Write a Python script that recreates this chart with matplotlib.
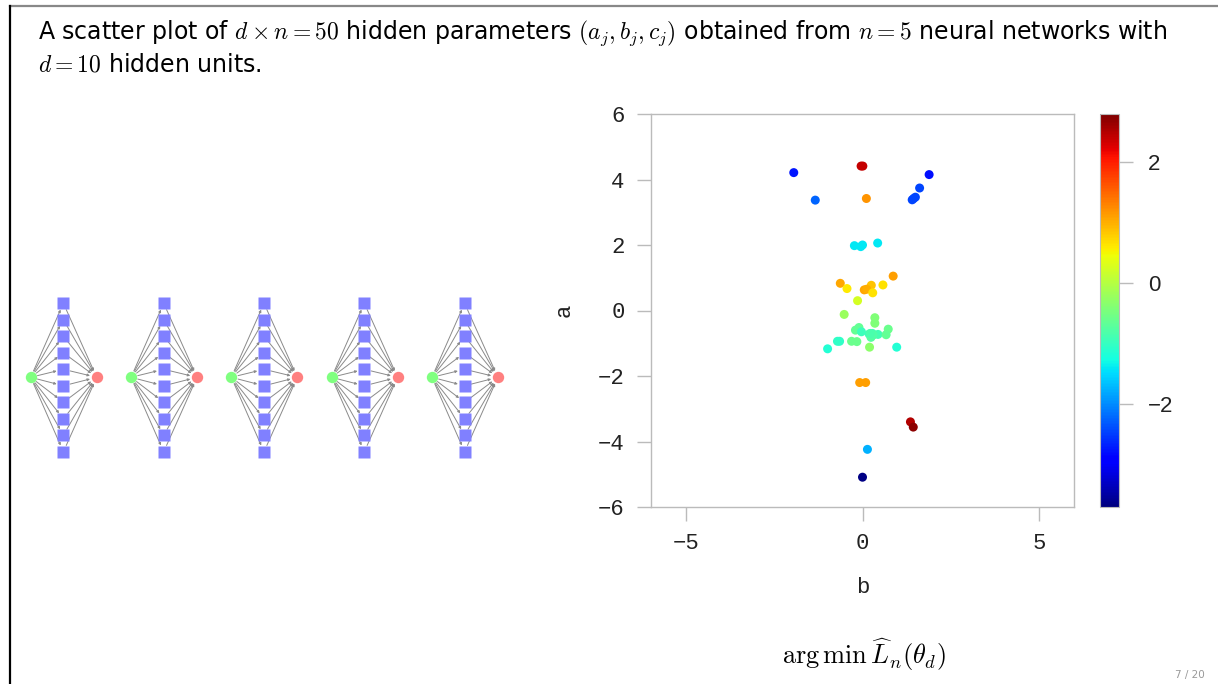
import numpy as np
import matplotlib
matplotlib.use("Agg")
import matplotlib.pyplot as plt
from matplotlib.lines import Line2D
from matplotlib.patches import FancyArrowPatch

plt.rcParams['mathtext.fontset'] = 'cm'

# ---------------- data ----------------
b_vals = [-1.95, -0.04, 0.01, 1.89, 1.62, -1.34, 0.11, 1.50, 1.41, 1.45,
          -0.23, -0.05, 0.00, 0.43,
          0.87, -0.63, -0.44, 0.25, 0.05, 0.12, 0.29, 0.58, -0.14,
          -0.52, 0.35, 0.35, -0.20, -0.10, -0.03, 0.19, 0.28, 0.24, 0.44,
          0.73, 0.67, -0.71, -0.65, -0.31, -0.16, -0.99, 0.20, 0.97, 0.30, 0.22,
          -0.08, 0.09, 1.36, 1.44, 0.14, 0.00]
a_vals = [4.21, 4.41, 4.41, 4.15, 3.74, 3.37, 3.42, 3.46, 3.38, 3.42,
          1.98, 1.95, 2.00, 2.06,
          1.05, 0.83, 0.67, 0.77, 0.63, 0.65, 0.54, 0.78, 0.30,
          -0.12, -0.22, -0.39, -0.60, -0.52, -0.65, -0.72, -0.70, -0.82, -0.73,
          -0.57, -0.74, -0.94, -0.94, -0.94, -0.95, -1.17, -1.12, -1.12, -0.75, -0.70,
          -2.20, -2.20, -3.40, -3.56, -4.24, -5.09]
c_vals = [-2.75, 2.40, 2.40, -2.80, -2.45, -2.25, 1.20, -2.45, -2.45, -2.45,
          -1.40, -1.40, -1.40, -1.40,
          1.10, 1.05, 0.60, 0.85, 1.05, 1.00, 0.65, 0.65, 0.25,
          -0.20, -0.40, -0.40, -0.65, -0.65, -0.95, -0.95, -0.90, -0.75, -0.90,
          -0.60, -0.65, -1.05, -1.05, -0.60, -0.60, -1.15, -0.30, -1.15, -0.80, -0.85,
          1.10, 1.10, 2.50, 2.70, -1.75, -3.65]

x_ticks = [-5, 0, 5]
y_ticks = [-6, -4, -2, 0, 2, 4, 6]
cbar_ticks = [-2, 0, 2]
c_min, c_max = -3.7, 2.8

n_networks = 5
d_hidden = 10

# ---------------- figure ----------------
W, H = 1218, 684
fig = plt.figure(figsize=(W / 100, H / 100), dpi=100)

# background axes in pixel coordinates (frame + network diagrams)
bg = fig.add_axes([0, 0, 1, 1])
bg.set_xlim(0, W)
bg.set_ylim(H, 0)
bg.axis('off')

bg.add_line(Line2D([10, W], [6, 6], color='#888888', lw=1.6))
bg.add_line(Line2D([9.5, 9.5], [6, H], color='black', lw=1.6))

# network layout
net_x0, net_dx = 30.7, 100.3
hid_off, out_off = 32.7, 66.0
y_mid, y_top, y_step = 377.3, 303.3, 16.5
for k in range(n_networks):
    xi = net_x0 + k * net_dx
    xh = xi + hid_off
    xo = xi + out_off
    hy = [y_top + j * y_step for j in range(d_hidden)]
    for yy in hy:
        for (p, q) in [((xi, y_mid), (xh, yy)), ((xh, yy), (xo, y_mid))]:
            arr = FancyArrowPatch(p, q, arrowstyle='-|>', mutation_scale=3.5,
                                  color='#8a8a8a', lw=0.7, shrinkA=5, shrinkB=5,
                                  zorder=1)
            bg.add_patch(arr)
    bg.plot([xh] * d_hidden, hy, 's', ms=8, color='#8080ff', mec='none', zorder=2)
    bg.plot([xi], [y_mid], 'o', ms=8.2, color='#80ff80', mec='none', zorder=2)
    bg.plot([xo], [y_mid], 'o', ms=8.2, color='#ff8080', mec='none', zorder=2)

# title
title_kw = dict(fontsize=17, family='DejaVu Sans', va='baseline', ha='left')
fig.text(38 / W, 1 - 39 / H,
         r"A scatter plot of $d \times n = 50$ hidden parameters $(a_j, b_j, c_j)$ "
         r"obtained from $n = 5$ neural networks with", **title_kw)
fig.text(38 / W, 1 - 71 / H, r"$d = 10$ hidden units.", **title_kw)

# scatter
ax = fig.add_axes([651 / W, 1 - 507 / H, (1074 - 651) / W, (507 - 114) / H])
sc = ax.scatter(b_vals, a_vals, c=c_vals, cmap='jet', vmin=c_min, vmax=c_max,
                s=42, edgecolors='none', zorder=3)
ax.set_xlim(-6, 6)
ax.set_ylim(-6, 6)
ax.set_xticks(x_ticks)
ax.set_yticks(y_ticks)
for sp in ax.spines.values():
    sp.set_color('#bbbbbb')
    sp.set_linewidth(1.0)
ax.tick_params(direction='out', length=10, width=1.0, color='#bbbbbb',
               labelsize=16, labelcolor='#222222', pad=9)
for lab in ax.get_xticklabels() + ax.get_yticklabels():
    lab.set_family('Liberation Mono')
ax.set_xlabel('b', family='Liberation Mono', fontsize=16, color='#222222', labelpad=16)
ax.set_ylabel('a', family='Liberation Mono', fontsize=16, color='#222222', labelpad=17)

# colorbar
cax = fig.add_axes([1100 / W, 1 - 507 / H, 19 / W, (507 - 114) / H])
cb = fig.colorbar(sc, cax=cax, ticks=cbar_ticks)
cb.outline.set_edgecolor('#bbbbbb')
cb.outline.set_linewidth(0.8)
cax.tick_params(direction='out', length=10, width=1.0, color='#bbbbbb',
                labelsize=16, labelcolor='#222222', pad=11)
for lab in cax.get_yticklabels():
    lab.set_family('Liberation Sans')

# bottom formula
fig.text(864 / W, 1 - 655 / H, r"$\arg\min\,\widehat{L}_n(\theta_d)$",
         fontsize=19, ha='center', va='center')

# page number
fig.text(1205 / W, 1 - 675 / H, "7 / 20", fontsize=7.5, color='#999999',
         ha='right', va='center', family='DejaVu Sans')

fig.savefig('out.png', dpi=100)
